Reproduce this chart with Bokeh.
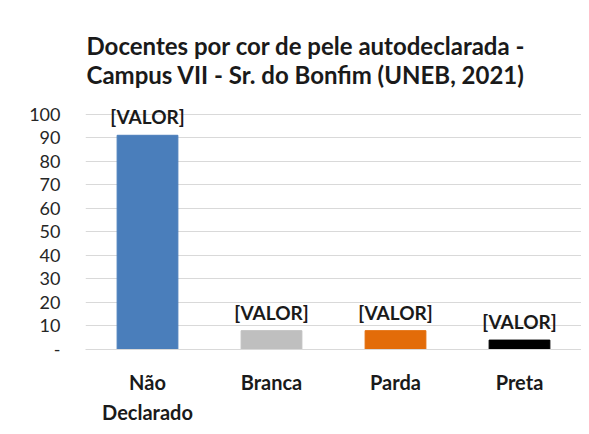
from bokeh.plotting import figure
from bokeh.models import ColumnDataSource, FixedTicker, LabelSet, Range1d, FactorRange
from bokeh.core.properties import value
from bokeh.embed import file_html
from bokeh.resources import INLINE

categories = ["Não\nDeclarado", "Branca", "Parda", "Preta"]
values = [91, 8, 8, 4]
colors = ["#4a7ebb", "#bfbfbf", "#e36c09", "#000000"]
bar_labels = ["[VALOR]"] * 4
y_ticks = [0, 10, 20, 30, 40, 50, 60, 70, 80, 90, 100]
title_lines = ["Docentes por cor de pele autodeclarada -",
               "Campus VII - Sr. do Bonfim (UNEB, 2021)"]

FONT = "Lato"

src = ColumnDataSource(dict(cat=categories, val=values, color=colors, lab=bar_labels))

p = figure(x_range=FactorRange(*categories), y_range=Range1d(0, 106.2),
           width=581, height=426, output_backend="svg", toolbar_location=None,
           min_border_left=85, min_border_right=0, min_border_top=99, min_border_bottom=77)
p.outline_line_color = None
p.background_fill_color = "white"
p.border_fill_color = "white"

p.vbar(x="cat", top="val", width=0.49, color="color", source=src)

p.add_layout(LabelSet(x="cat", y="val", text="lab", source=src, text_align="center",
                      text_baseline="bottom", y_offset=7, text_font=value(FONT),
                      text_font_style="bold", text_font_size="19px", text_color="#1a1a1a"))

# two-line title
p.title.text = "\n".join(title_lines)
p.title.align = "left"
p.title.offset = 1
p.title.text_font = FONT
p.title.text_font_style = "bold"
p.title.text_font_size = "24px"
p.title.text_line_height = 1.0
p.title.text_color = "#1a1a1a"
p.title.standoff = 21

p.xgrid.grid_line_color = None
p.ygrid.grid_line_color = "#d9d9d9"
p.yaxis.ticker = FixedTicker(ticks=y_ticks)
p.yaxis.major_label_overrides = {0: "-"}
p.yaxis.axis_line_color = None
p.yaxis.major_tick_line_color = None
p.yaxis.minor_tick_line_color = None
p.yaxis.major_label_standoff = 19
p.yaxis.major_label_text_font = FONT
p.yaxis.major_label_text_font_size = "18px"
p.yaxis.major_label_text_color = "#262626"

p.xaxis.axis_line_color = "#d9d9d9"
p.xaxis.major_tick_line_color = None
p.xaxis.major_label_standoff = 14
p.xaxis.major_label_text_font = FONT
p.xaxis.major_label_text_font_style = "bold"
p.xaxis.major_label_text_font_size = "20px"
p.xaxis.major_label_text_color = "#1a1a1a"
p.xaxis.major_label_text_line_height = 1.25

open("out.html", "w").write(file_html(p, INLINE))
